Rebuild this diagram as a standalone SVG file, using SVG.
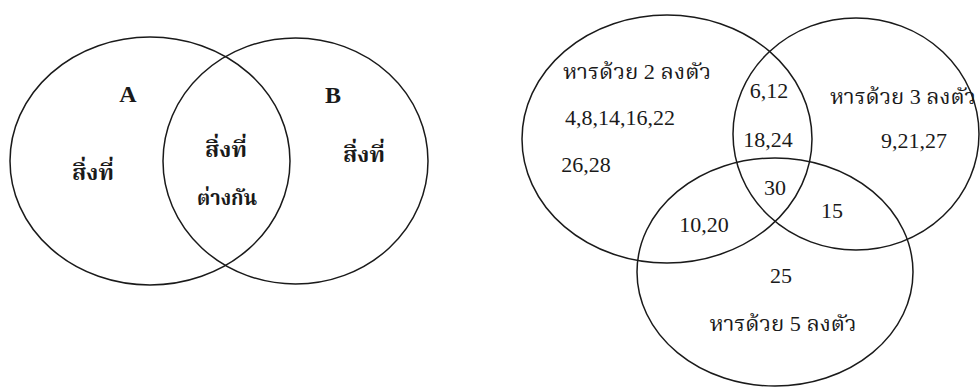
<svg xmlns="http://www.w3.org/2000/svg" width="980" height="391" viewBox="0 0 980 391">
<style>
.c{fill:none;stroke:#1a1a1a;stroke-width:1.5}
.t{font-family:"Liberation Serif","Noto Serif Thai","Noto Sans Thai","Noto Sans",serif;fill:#1a1a1a;text-anchor:middle}
.b{font-weight:bold}
.n{font-size:22px}
.th{font-size:21px}
.tb{font-size:22px}
</style>
<rect width="980" height="391" fill="#fff"/>
<g id="setA"><ellipse class="c" cx="150" cy="161" rx="140" ry="124"/>
<text class="t b" x="128" y="102" font-size="24">A</text>
<text class="t b tb" x="93" y="180" textLength="42" lengthAdjust="spacingAndGlyphs">สิ่งที่</text></g>
<g id="setB"><ellipse class="c" cx="295.5" cy="161" rx="132.5" ry="123"/>
<text class="t b" x="333" y="103" font-size="24">B</text>
<text class="t b tb" x="364" y="162" textLength="42" lengthAdjust="spacingAndGlyphs">สิ่งที่</text></g>
<g id="intersectionAB">
<text class="t b tb" x="226" y="157" textLength="42" lengthAdjust="spacingAndGlyphs">สิ่งที่</text>
<text class="t b tb" x="227" y="205" textLength="60" lengthAdjust="spacingAndGlyphs">ต่างกัน</text></g>
<g id="div2"><ellipse class="c" cx="667" cy="139" rx="145" ry="124"/>
<text class="t th" x="637" y="79" textLength="148" lengthAdjust="spacingAndGlyphs">หารด้วย 2 ลงตัว</text>
<text class="t n" x="620" y="125">4,8,14,16,22</text>
<text class="t n" x="586" y="172">26,28</text></g>
<g id="div3"><ellipse class="c" cx="856" cy="134" rx="123" ry="116"/>
<text class="t th" x="903" y="104" textLength="146" lengthAdjust="spacingAndGlyphs">หารด้วย 3 ลงตัว</text>
<text class="t n" x="914" y="148">9,21,27</text></g>
<g id="div5"><ellipse class="c" cx="775" cy="272" rx="138" ry="114"/>
<text class="t n" x="781" y="283">25</text>
<text class="t th" x="783" y="331" textLength="147" lengthAdjust="spacingAndGlyphs">หารด้วย 5 ลงตัว</text></g>
<g id="overlaps">
<text class="t n" x="769" y="98">6,12</text>
<text class="t n" x="768" y="147">18,24</text>
<text class="t n" x="775" y="195">30</text>
<text class="t n" x="704" y="232">10,20</text>
<text class="t n" x="832" y="218">15</text></g>
</svg>
